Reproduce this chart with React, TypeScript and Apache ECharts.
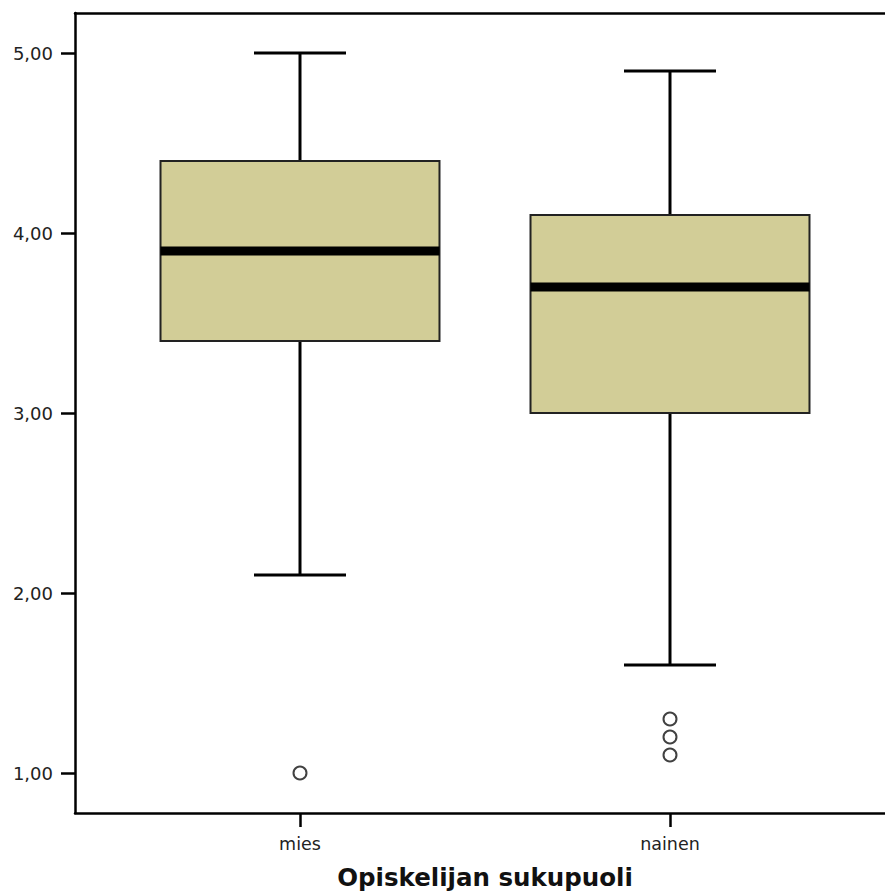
import React, { useEffect, useRef } from "react";
import * as echarts from "echarts";

const categories = ["mies", "nainen"];
// [categoryIndex, lowWhisker, Q1, median, Q3, highWhisker]
const boxValues = [
  [0, 2.1, 3.4, 3.9, 4.4, 5.0],
  [1, 1.6, 3.0, 3.7, 4.1, 4.9],
];
const outliers = [
  [0, 1.0],
  [1, 1.3],
  [1, 1.2],
  [1, 1.1],
];
const yTicks = [1, 2, 3, 4, 5];
const yMin = 7 / 9;
const yMax = 47 / 9;
const xTitle = "Opiskelijan sukupuoli";

const BOX_FILL = "#d2cd97";
const FONT = "DejaVu Sans";

export default function App() {
  const ref = useRef<HTMLDivElement>(null);
  useEffect(() => {
    if (!ref.current) return;
    const chart = echarts.init(ref.current, null, { renderer: "svg" });
    const option: any = {
      animation: false,
      grid: [
        {
          left: 75,
          top: 13,
          width: 840,
          height: 800,
          show: false,
        },
        { left: 115, top: 13, right: 30, bottom: 82 },
      ],
      xAxis: [
        {
          gridIndex: 0,
          type: "value",
          min: 0,
          max: 1,
          position: "bottom",
          axisLine: { show: true, onZero: false, lineStyle: { color: "#000", width: 2.5 } },
          axisTick: { show: false },
          axisLabel: { show: false },
          splitLine: { show: false },
        },
        {
          gridIndex: 0,
          type: "value",
          min: 0,
          max: 1,
          position: "top",
          axisLine: { show: true, onZero: false, lineStyle: { color: "#000", width: 2.5 } },
          axisTick: { show: false },
          axisLabel: { show: false },
          splitLine: { show: false },
        },
        {
          gridIndex: 1,
          type: "category",
          data: categories,
          axisLine: { show: false },
          axisTick: {
            show: true,
            alignWithLabel: true,
            length: 14,
            lineStyle: { color: "#000", width: 2.5 },
          },
          axisLabel: { color: "#222", fontFamily: FONT, fontSize: 17.5, margin: 22 },
          name: xTitle,
          nameLocation: "middle",
          nameGap: 52,
          nameTextStyle: {
            color: "#111",
            fontFamily: FONT,
            fontWeight: "bold",
            fontSize: 24.5,
          },
          splitLine: { show: false },
        },
      ],
      yAxis: [
        {
          gridIndex: 0,
          type: "value",
          min: yMin,
          max: yMax,
          axisLine: { show: true, onZero: false, lineStyle: { color: "#000", width: 2.5 } },
          axisTick: {
            show: true,
            length: 14,
            customValues: yTicks,
            lineStyle: { color: "#000", width: 2.5 },
          },
          axisLabel: {
            customValues: yTicks,
            color: "#222",
            fontFamily: FONT,
            fontSize: 18,
            margin: 22,
            formatter: (v: number) => v.toFixed(2).replace(".", ","),
          },
          splitLine: { show: false },
        },
        {
          gridIndex: 1,
          type: "value",
          min: yMin,
          max: yMax,
          show: false,
          splitLine: { show: false },
        },
      ],
      series: [
        {
          type: "custom",
          xAxisIndex: 2,
          yAxisIndex: 1,
          data: boxValues,
          encode: { x: 0, y: [1, 2, 3, 4, 5] },
          renderItem: (params: any, api: any) => {
            const c = api.value(0);
            const band = api.size([1, 0])[0];
            const bw = band * 0.754;
            const cap = 92;
            const [cx, yLow] = api.coord([c, api.value(1)]);
            const yQ1 = api.coord([c, api.value(2)])[1];
            const yMed = api.coord([c, api.value(3)])[1];
            const yQ3 = api.coord([c, api.value(4)])[1];
            const yHigh = api.coord([c, api.value(5)])[1];
            const lineStyle = { stroke: "#000", lineWidth: 3 };
            return {
              type: "group",
              children: [
                { type: "line", shape: { x1: cx, y1: yHigh, x2: cx, y2: yQ3 }, style: lineStyle },
                { type: "line", shape: { x1: cx, y1: yQ1, x2: cx, y2: yLow }, style: lineStyle },
                { type: "line", shape: { x1: cx - cap / 2, y1: yHigh, x2: cx + cap / 2, y2: yHigh }, style: lineStyle },
                { type: "line", shape: { x1: cx - cap / 2, y1: yLow, x2: cx + cap / 2, y2: yLow }, style: lineStyle },
                {
                  type: "rect",
                  shape: { x: cx - bw / 2, y: yQ3, width: bw, height: yQ1 - yQ3 },
                  style: { fill: BOX_FILL, stroke: "#222", lineWidth: 2 },
                },
                {
                  type: "line",
                  shape: { x1: cx - bw / 2, y1: yMed, x2: cx + bw / 2, y2: yMed },
                  style: { stroke: "#000", lineWidth: 9 },
                },
              ],
            };
          },
        },
        {
          type: "scatter",
          xAxisIndex: 2,
          yAxisIndex: 1,
          data: outliers,
          symbol: "circle",
          symbolSize: 13,
          itemStyle: { color: "#fff", borderColor: "#111", borderWidth: 2 },
        },
      ],
    };
    chart.setOption(option);
    return () => chart.dispose();
  }, []);
  return <div ref={ref} style={{ width: 885, height: 895, position: "absolute", left: 0, top: 0 }} />;
}
